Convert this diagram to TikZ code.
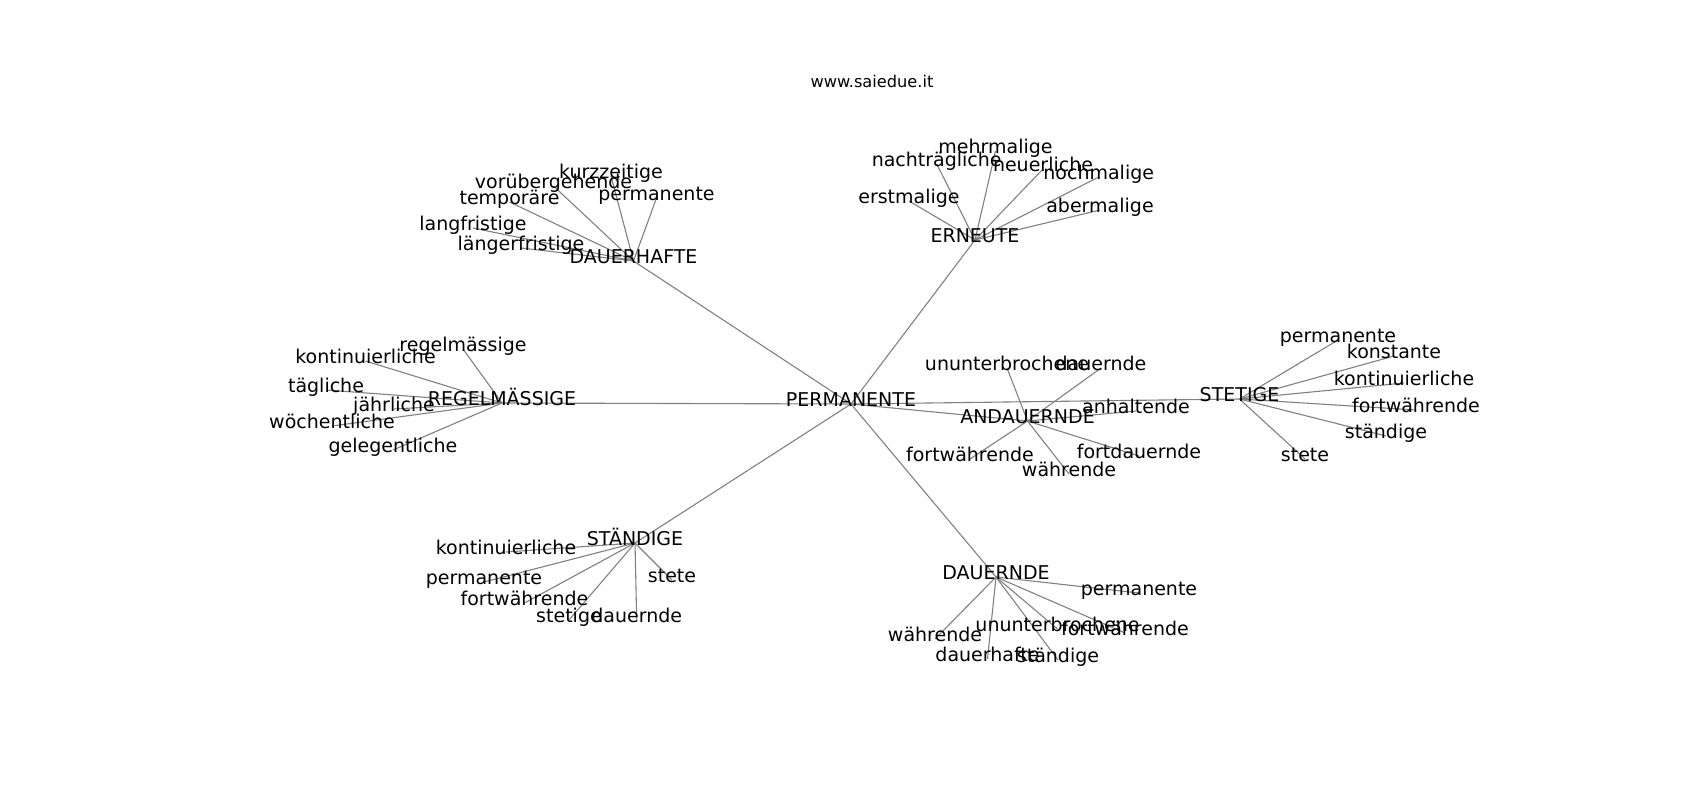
\documentclass[tikz,border=0pt]{standalone}
\usepackage{fontspec}
\setmainfont{DejaVu Sans}
\usetikzlibrary{backgrounds}
\definecolor{edgegray}{HTML}{808080}
\tikzset{
  lbl/.style={anchor=center, inner sep=0pt, text height=0.76em, text depth=0.208em, font=\fontsize{19}{19}\selectfont, text=black},
  ttl/.style={anchor=center, inner sep=0pt, font=\fontsize{16.2}{16.2}\selectfont, text=black},
  edge/.style={draw=edgegray, line width=1.1pt}
}
\begin{document}
\begin{tikzpicture}[x=1pt,y=-1pt]
\useasboundingbox (0,0) rectangle (1700,800);
\node[ttl] (title) at (872,81) {www.saiedue.it};
\begin{scope}[shift={(0,3)}]
% hub
\node[lbl] (P) at (851,401) {PERMANENTE};
% DAUERHAFTE
\node[lbl] (D) at (633.5,258) {DAUERHAFTE};
\node[lbl] (d1) at (611,173) {kurzzeitige};
\node[lbl] (d2) at (553.5,183) {vorübergehende};
\node[lbl] (d3) at (509.5,199) {temporäre};
\node[lbl] (d4) at (656.5,195) {permanente};
\node[lbl] (d5) at (473,225) {langfristige};
\node[lbl] (d6) at (521,245) {längerfristige};
% ERNEUTE
\node[lbl] (E) at (975,237) {ERNEUTE};
\node[lbl] (e1) at (995.5,148) {mehrmalige};
\node[lbl] (e2) at (936.7,161) {nachträgliche};
\node[lbl] (e3) at (1043,166) {neuerliche};
\node[lbl] (e4) at (1098.7,174) {nochmalige};
\node[lbl] (e5) at (909,198) {erstmalige};
\node[lbl] (e6) at (1100,207) {abermalige};
% REGELMAESSIGE
\node[lbl] (R) at (502,400) {REGELMÄSSIGE};
\node[lbl] (r1) at (463,346) {regelmässige};
\node[lbl] (r2) at (365.5,358) {kontinuierliche};
\node[lbl] (r3) at (326,387) {tägliche};
\node[lbl] (r4) at (394,406) {jährliche};
\node[lbl] (r5) at (332,423) {wöchentliche};
\node[lbl] (r6) at (393,447) {gelegentliche};
% ANDAUERNDE
\node[lbl] (A) at (1027.5,418) {ANDAUERNDE};
\node[lbl] (a1) at (1007,365) {ununterbrochene};
\node[lbl] (a2) at (1101,365) {dauernde};
\node[lbl] (a3) at (1136,408) {anhaltende};
\node[lbl] (a4) at (970,456) {fortwährende};
\node[lbl] (a5) at (1139,453) {fortdauernde};
\node[lbl] (a6) at (1069,471) {währende};
% STETIGE
\node[lbl] (S) at (1239.5,396) {STETIGE};
\node[lbl] (s1) at (1338,337) {permanente};
\node[lbl] (s2) at (1394,353) {konstante};
\node[lbl] (s3) at (1404,380) {kontinuierliche};
\node[lbl] (s4) at (1416,407) {fortwährende};
\node[lbl] (s5) at (1386,433) {ständige};
\node[lbl] (s6) at (1305,456) {stete};
% STAENDIGE
\node[lbl] (T) at (635,540) {STÄNDIGE};
\node[lbl] (t1) at (506,549) {kontinuierliche};
\node[lbl] (t2) at (484,579) {permanente};
\node[lbl] (t3) at (524.5,600) {fortwährende};
\node[lbl] (t4) at (672,577) {stete};
\node[lbl] (t5) at (569,617) {stetige};
\node[lbl] (t6) at (636.7,617) {dauernde};
% DAUERNDE
\node[lbl] (U) at (996,574) {DAUERNDE};
\node[lbl] (u1) at (1139,590) {permanente};
\node[lbl] (u2) at (935,636) {währende};
\node[lbl] (u3) at (1057.5,626) {ununterbrochene};
\node[lbl] (u4) at (1125,630) {fortwährende};
\node[lbl] (u5) at (987.5,656) {dauerhafte};
\node[lbl] (u6) at (1058,657) {ständige};
\end{scope}
\begin{pgfonlayer}{background}
\foreach \h in {D,E,R,A,S,T,U}{
  \draw[edge] (P.center) -- (\h.center);
}
\foreach \c in {d1,d2,d3,d4,d5,d6}{\draw[edge] (D.center) -- (\c.center);}
\foreach \c in {e1,e2,e3,e4,e5,e6}{\draw[edge] (E.center) -- (\c.center);}
\foreach \c in {r1,r2,r3,r4,r5,r6}{\draw[edge] (R.center) -- (\c.center);}
\foreach \c in {a1,a2,a3,a4,a5,a6}{\draw[edge] (A.center) -- (\c.center);}
\foreach \c in {s1,s2,s3,s4,s5,s6}{\draw[edge] (S.center) -- (\c.center);}
\foreach \c in {t1,t2,t3,t4,t5,t6}{\draw[edge] (T.center) -- (\c.center);}
\foreach \c in {u1,u2,u3,u4,u5,u6}{\draw[edge] (U.center) -- (\c.center);}
\end{pgfonlayer}
\end{tikzpicture}
\end{document}
